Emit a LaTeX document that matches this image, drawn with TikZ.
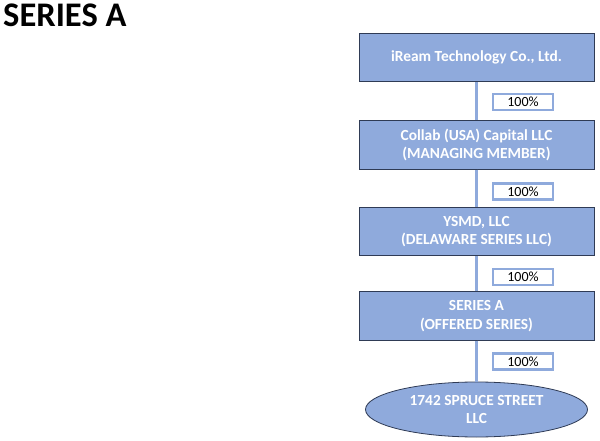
\documentclass[tikz,border=0pt]{standalone}
\usepackage{fontspec}
\setmainfont{Carlito}
\usetikzlibrary{shapes.geometric}
\definecolor{boxfill}{HTML}{8FAADC}
\definecolor{boxline}{HTML}{2F3B55}
\definecolor{linkcol}{HTML}{8FAADC}
\begin{document}
\begin{tikzpicture}[x=1pt,y=-1pt,
  entity/.style={draw=boxline, line width=0.8pt, fill=boxfill, minimum width=235pt, minimum height=48.5pt, inner sep=0pt, align=center, text=white, font=\fontsize{15.4}{18.5}\selectfont\bfseries},
  oval/.style={ellipse, draw=boxline, line width=0.8pt, fill=boxfill, minimum width=222pt, minimum height=55pt, inner sep=0pt, align=center, text=white, font=\fontsize{15.4}{18.5}\selectfont\bfseries},
  pct/.style={draw=linkcol, line width=2.6pt, fill=white, minimum width=60pt, minimum height=16pt, inner sep=0pt, font=\fontsize{14}{15}\selectfont},
  link/.style={draw=linkcol, line width=3pt}]
\useasboundingbox (0,0) rectangle (600,441);
\node[anchor=base west, font=\fontsize{34.5}{37}\selectfont\bfseries, inner sep=0pt] (title) at (3,26.5) {SERIES A};
\node[entity] (b1) at (476.5,57.5) {iReam Technology Co., Ltd.};
\node[entity] (b2) at (476.5,145) {Collab (USA) Capital LLC\\(MANAGING MEMBER)};
\node[entity] (b3) at (476.5,231.5) {YSMD, LLC\\(DELAWARE SERIES LLC)};
\node[entity] (b4) at (476.5,316) {SERIES A\\(OFFERED SERIES)};
\node[oval] (b5) at (476.5,409.5) {1742 SPRUCE STREET\\LLC};
\draw[link] (b1.south) -- (b2.north);
\draw[link] (b2.south) -- (b3.north);
\draw[link] (b3.south) -- (b4.north);
\draw[link] (b4.south) -- (b5.north);
\node[pct] (p1) at (523,102) {100\%};
\node[pct] (p2) at (523,191.5) {100\%};
\node[pct] (p3) at (523,277) {100\%};
\node[pct] (p4) at (523,361.5) {100\%};
\end{tikzpicture}
\end{document}
